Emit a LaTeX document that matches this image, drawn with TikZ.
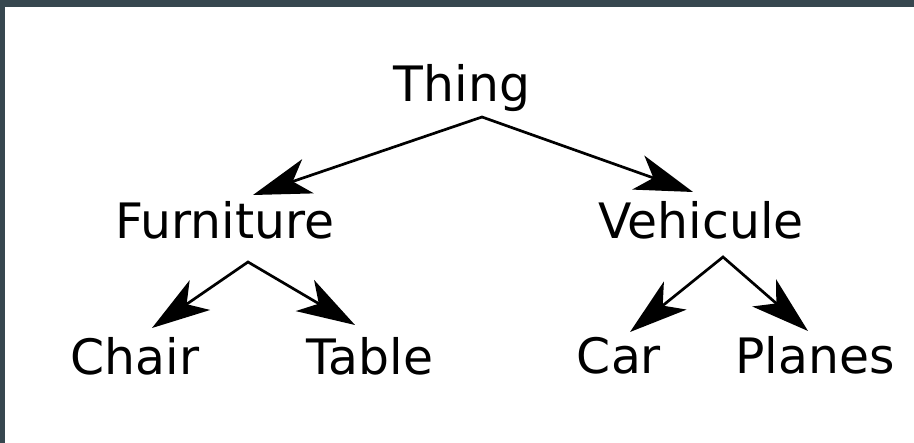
\documentclass[tikz,border=0pt]{standalone}
\usepackage{fontspec}
\setmainfont{DejaVu Sans}
\usetikzlibrary{arrows.meta}
\definecolor{frame}{HTML}{37474F}
\tikzset{
  label/.style={anchor=base, inner sep=0pt, font=\fontsize{24.4pt}{28pt}\selectfont},
  branchtip/.tip={Stealth[length=29pt, width=18pt, inset=8pt]},
  branch/.style={line width=1.35pt, line join=miter, branchtip-branchtip}
}
\begin{document}
\begin{tikzpicture}[x=0.5pt, y=-0.5pt]
  % page with a dark frame along the top and left edges
  \fill[white] (0,0) rectangle (914,443);
  \fill[frame] (0,0) rectangle (914,7);
  \fill[frame] (0,0) rectangle (5,443);
  \useasboundingbox (0,0) rectangle (914,443);

  % categories
  \node[label] (thing) at (462,102) {Thing};
  \node[label] (furniture) at (225,238) {Furniture};
  \node[label] (vehicule) at (701,238) {Vehicule};
  \node[label] (chair) at (135,374) {Chair};
  \node[label] (table) at (370,374) {Table};
  \node[label] (car) at (619,373) {Car};
  \node[label] (planes) at (815,373) {Planes};

  % branch points and arrow tips
  \coordinate (thingFork) at (482,117);
  \coordinate (furnitureIn) at (253,195);
  \coordinate (vehiculeIn) at (693,192);
  \coordinate (furnitureFork) at (248,262);
  \coordinate (chairIn) at (152,328);
  \coordinate (tableIn) at (355,325);
  \coordinate (vehiculeFork) at (723,257);
  \coordinate (carIn) at (630,332);
  \coordinate (planesIn) at (808,331);

  % hierarchy arrows
  \draw[branch] (furnitureIn) -- (thingFork) -- (vehiculeIn);
  \draw[branch] (chairIn) -- (furnitureFork) -- (tableIn);
  \draw[branch] (carIn) -- (vehiculeFork) -- (planesIn);
\end{tikzpicture}
\end{document}
